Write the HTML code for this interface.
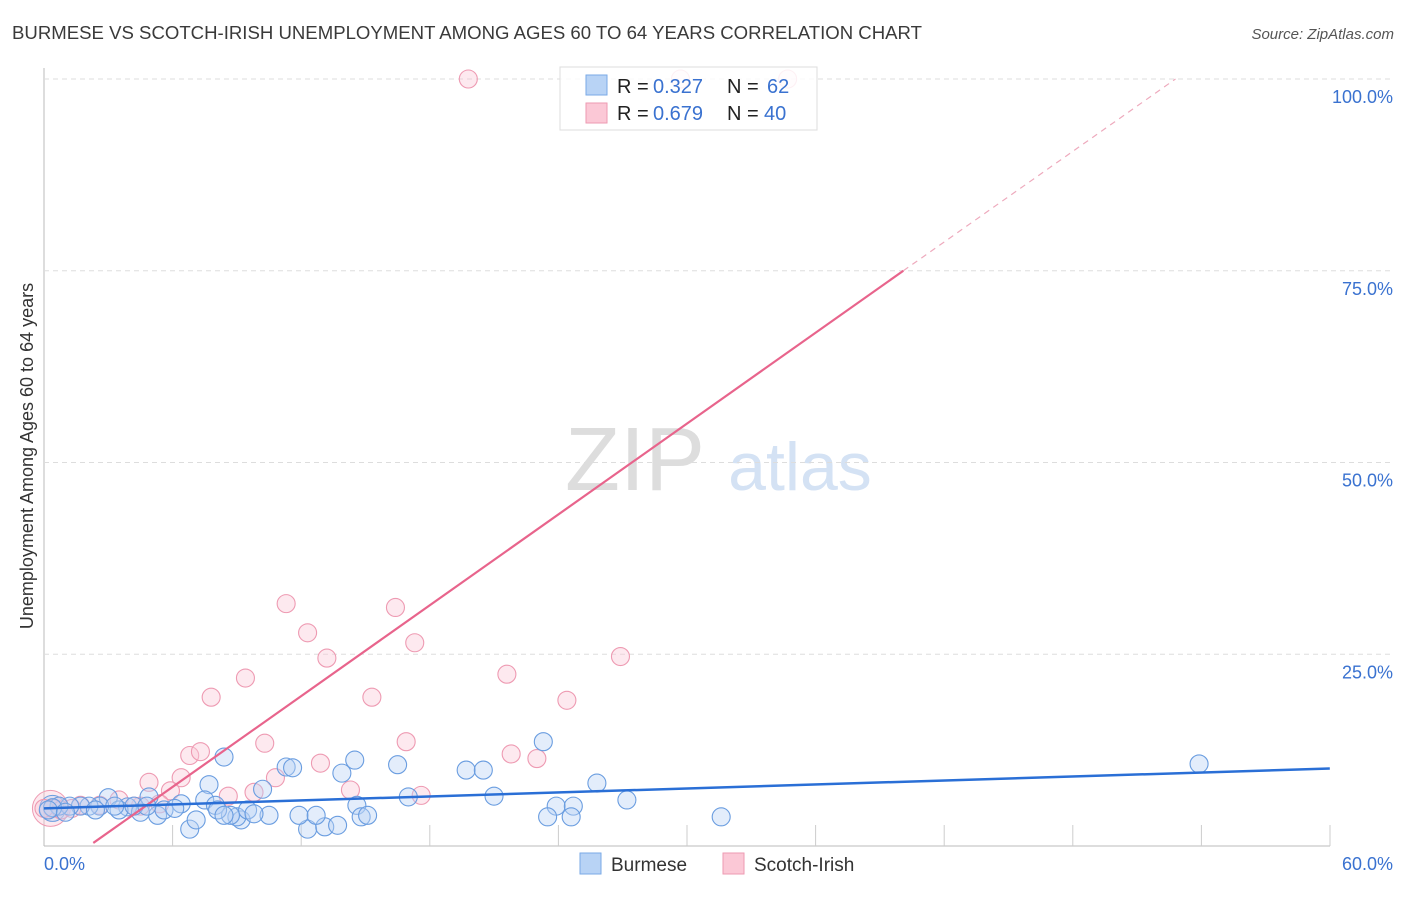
<!DOCTYPE html>
<html><head><meta charset="utf-8"><style>
body{margin:0;background:#fff;font-family:"Liberation Sans",sans-serif}
svg text{font-family:"Liberation Sans",sans-serif}
</style></head><body>
<svg id="c" width="1406" height="892">
<text x="12" y="39" font-size="18" fill="#3a3a3a" textLength="910" lengthAdjust="spacingAndGlyphs">BURMESE VS SCOTCH-IRISH UNEMPLOYMENT AMONG AGES 60 TO 64 YEARS CORRELATION CHART</text>
<text x="1394" y="39" font-size="15" fill="#555" text-anchor="end" font-style="italic">Source: ZipAtlas.com</text>
<text transform="translate(33,456) rotate(-90)" font-size="18" fill="#333" text-anchor="middle">Unemployment Among Ages 60 to 64 years</text>
<g><text x="635" y="490" font-size="90" fill="#ddd" text-anchor="middle" font-family="Liberation Serif">ZIP</text><text x="800" y="490" font-size="68" fill="#d4e2f4" text-anchor="middle">atlas</text></g>
<g id="grid"></g><g id="marks"></g>
<g>
<rect x="560" y="67" width="257" height="63" fill="#fff" fill-opacity="0.85" stroke="#ddd"/>
<rect x="586" y="75" width="21" height="20" fill="#b8d3f5" stroke="#7aa9e6"/>
<rect x="586" y="103" width="21" height="20" fill="#fbc8d6" stroke="#ee9ab2"/>
<text x="617" y="93" font-size="20" fill="#222">R =</text><text x="653" y="93" font-size="20" fill="#3a72d0">0.327</text>
<text x="727" y="93" font-size="20" fill="#222">N =</text><text x="767" y="93" font-size="20" fill="#3a72d0">62</text>
<text x="617" y="120" font-size="20" fill="#222">R =</text><text x="653" y="120" font-size="20" fill="#3a72d0">0.679</text>
<text x="727" y="120" font-size="20" fill="#222">N =</text><text x="764" y="120" font-size="20" fill="#3a72d0">40</text>
</g>
<g>
<rect x="580" y="853" width="21" height="21" fill="#b8d3f5" stroke="#7aa9e6"/>
<text x="611" y="871" font-size="19" fill="#333">Burmese</text>
<rect x="723" y="853" width="21" height="21" fill="#fbc8d6" stroke="#ee9ab2"/>
<text x="754" y="871" font-size="19" fill="#333">Scotch-Irish</text>
</g>
</svg>
<script>
const yTicks=[25,50,75,100];
const yTickLabels=["25.0%","50.0%","75.0%","100.0%"];
const xTickLabels=["0.0%","60.0%"];
const burmeseX=[53.9,23.3,8.4,14.5,16.5,19.7,20.5,11.3,11.6,13.9,7.7,25.8,10.2,3.0,4.9,7.5,6.4,27.2,17.0,21.0,23.9,24.7,31.6,23.5,24.6,6.8,7.1,12.3,13.1,13.7,10.5,11.9,12.7,14.6,14.8,15.1,9.2,9.0,9.5,9.8,8.0,8.7,3.9,5.3,5.6,6.1,4.5,3.5,2.6,2.1,1.7,1.2,0.7,0.4,0.2,1.0,3.3,4.2,2.4,4.8,8.1,8.4];
const burmeseY=[10.7,13.6,11.6,11.2,10.6,9.9,9.9,10.3,10.2,9.5,8.0,8.2,7.4,6.3,6.4,6.0,5.5,6.0,6.4,6.5,5.2,5.2,3.8,3.8,3.8,2.2,3.4,2.2,2.5,2.7,4.0,4.0,4.0,5.3,3.8,4.0,3.4,3.8,4.7,4.2,5.3,4.0,5.1,4.0,4.7,4.9,4.4,4.7,5.2,5.2,5.2,5.2,5.2,5.0,4.7,4.4,5.2,5.2,4.7,5.2,4.7,4.0];
const irishX=[19.8,29.7,34.7,11.3,16.4,12.3,13.2,17.3,26.9,21.6,9.4,7.8,15.3,24.4,10.3,16.9,6.8,7.3,21.8,23.0,6.4,12.9,4.9,5.9,14.3,10.8,9.8,8.6,17.6,3.5,2.6,1.7,0.7,0.4,0.0,4.5,5.4,4.2,0.8,1.3];
const irishY=[100,100,100,31.6,31.1,27.8,24.5,26.5,24.7,22.4,21.9,19.4,19.4,19.0,13.4,13.6,11.8,12.3,12.0,11.4,8.9,10.8,8.3,7.2,7.3,8.9,7.0,6.5,6.6,6.0,5.3,5.3,5.2,4.9,4.9,5.2,5.5,5.2,4.7,4.9];
const blueLine=[[0,4.9],[60,10.1]];
const pinkLine=[[2.3,0.4],[40.1,75]];
const pinkDash=[[40.1,75],[52.8,100]];
const ns="http://www.w3.org/2000/svg";
const X=v=>44+v*21.43, Y=v=>846-v*7.67;
function el(t,a,p){const e=document.createElementNS(ns,t);for(const k in a)e.setAttribute(k,a[k]);p.appendChild(e);return e;}
const g=document.getElementById('grid'), m=document.getElementById('marks');
const ax=el('line',{x1:44,y1:68,x2:44,y2:846,stroke:'#bbb'},g);


const bx=el('line',{x1:44,y1:846,x2:1330,y2:846,stroke:'#bbb'},g);


for(let i=1;i<=10;i++){const t=el('line',{x1:44+i*128.6,y1:825,x2:44+i*128.6,y2:846,stroke:'#ccc'},g);

}
yTicks.forEach((v,i)=>{const l=el('line',{x1:44,y1:Y(v),x2:1394,y2:Y(v),stroke:'#ddd','stroke-dasharray':'5,4'},g);


const t=el('text',{x:1393,y:Y(v)+24,'font-size':18,fill:'#3a72d0','text-anchor':'end'},g);t.textContent=yTickLabels[i];

});
[[44,'start'],[1393,'end']].forEach((p,i)=>{const t=el('text',{x:p[0],y:870,'font-size':18,fill:'#3a72d0','text-anchor':p[1]},g);t.textContent=xTickLabels[i];

});
function dots(xs,ys,f,s,name){xs.forEach((x,i)=>{const c=el('circle',{cx:X(x),cy:Y(ys[i]),r:9,fill:f,'fill-opacity':0.4,stroke:s,'stroke-width':1.1},m);

});}
const bigP=el('circle',{cx:X(0.3),cy:Y(4.9),r:18,fill:'#fbc8d6','fill-opacity':0.4,stroke:'#ee9ab2'},m);


const bigB=el('circle',{cx:X(0.4),cy:Y(4.9),r:13,fill:'#b8d3f5','fill-opacity':0.4,stroke:'#6a9de0'},m);


dots(irishX,irishY,'#fbc8d6','#ee9ab2','scotch-irish-point');
dots(burmeseX,burmeseY,'#b8d3f5','#6a9de0','burmese-point');
function line(p,c,w,d,name){const l=el('line',{x1:X(p[0][0]),y1:Y(p[0][1]),x2:X(p[1][0]),y2:Y(p[1][1]),stroke:c,'stroke-width':w},m);if(d)l.setAttribute('stroke-dasharray',d);

}
line(pinkLine,'#e8648c',2.2,null,'scotch-irish-trend-line');
line(pinkDash,'#eeaabd',1.2,'6,5','scotch-irish-trend-extension');
line(blueLine,'#2a6fd6',2.5,null,'burmese-trend-line');
</script>
</body></html>
